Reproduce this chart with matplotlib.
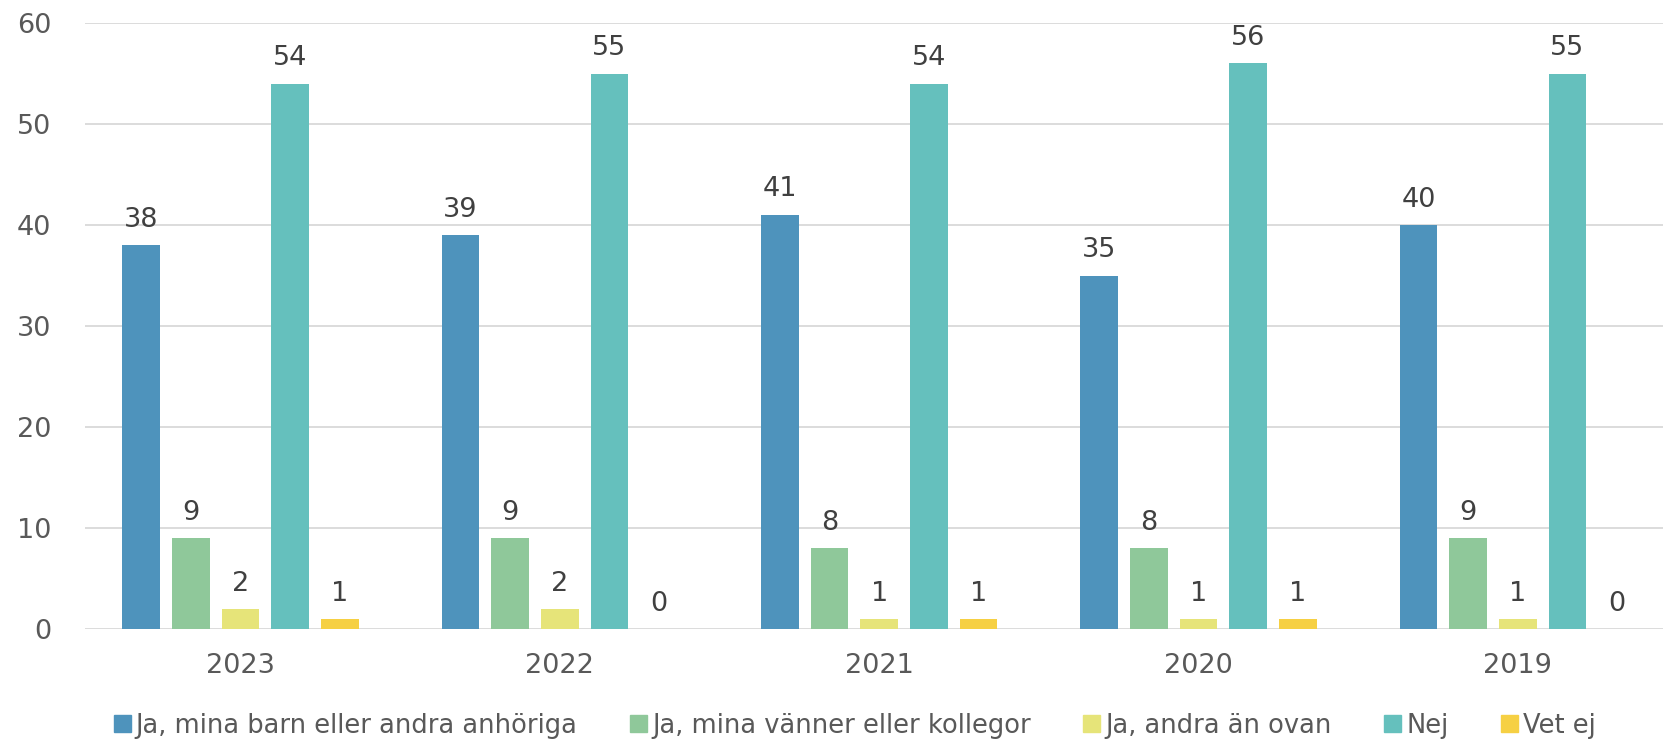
import numpy as np
import matplotlib.pyplot as plt
from matplotlib.patches import Patch

years = ["2023", "2022", "2021", "2020", "2019"]
series_names = ["Ja, mina barn eller andra anhöriga", "Ja, mina vänner eller kollegor",
                "Ja, andra än ovan", "Nej", "Vet ej"]
barn = [38, 39, 41, 35, 40]
vanner = [9, 9, 8, 8, 9]
andra = [2, 2, 1, 1, 1]
nej = [54, 55, 54, 56, 55]
vet_ej = [1, 0, 1, 1, 0]
colors = ["#4E93BC", "#8FC89A", "#E6E479", "#65C0BD", "#F6D043"]

series = [barn, vanner, andra, nej, vet_ej]

fig = plt.figure(figsize=(16.63, 7.42), dpi=100)
ax = fig.add_axes([0.051, 0.152, 0.949, 0.817])

x = np.arange(len(years))
pitch = 0.1555
width = 0.118
for i, (vals, c) in enumerate(zip(series, colors)):
    pos = x + (i - 2) * pitch
    ax.bar(pos, vals, width=width, color=c, zorder=3)
    for p, v in zip(pos, vals):
        ax.annotate(str(v), (p, v), xytext=(0, 9), textcoords="offset points",
                    ha="center", va="bottom", fontsize=19.5, color="#404040")

ax.set_ylim(0, 60)
ax.set_xlim(-0.488, 4.455)
ax.set_yticks(range(0, 61, 10))
ax.set_xticks(x)
ax.set_xticklabels(years)
ax.grid(axis="y", color="#D9D9D9", linewidth=1.3, zorder=0)
for s in ax.spines.values():
    s.set_visible(False)
ax.tick_params(length=0, labelsize=19.5, colors="#595959")
ax.tick_params(axis="y", pad=24)
ax.tick_params(axis="x", pad=17)

handles = [Patch(color=c) for c in colors]
fig.legend(handles, series_names, loc="lower center", bbox_to_anchor=(0.514, -0.027),
           ncol=5, frameon=False, handlelength=0.65, handleheight=0.65,
           handletextpad=0.2, columnspacing=2.05,
           prop={"size": 18.5}, labelcolor="#595959")

fig.savefig("out.png", dpi=100)
